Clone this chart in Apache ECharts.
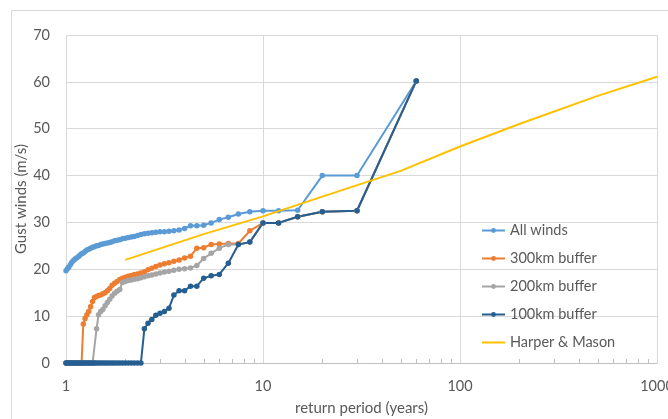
<!DOCTYPE html>
<html>
<head>
<meta charset="utf-8">
<script src="https://cdn.jsdelivr.net/npm/echarts@6/dist/echarts.min.js"></script>
<style>html,body{margin:0;padding:0;background:#fff;}#c{width:668px;height:419px;}</style>
</head>
<body>
<div id="c"></div>
<script>
// Return periods (years), rank 60 down to rank 1
const returnPeriods = [1, 1.017, 1.034, 1.053, 1.071, 1.091, 1.111, 1.132, 1.154, 1.176,
  1.2, 1.224, 1.25, 1.277, 1.304, 1.333, 1.364, 1.395, 1.429, 1.463,
  1.5, 1.538, 1.579, 1.622, 1.667, 1.714, 1.765, 1.818, 1.875, 1.935,
  2, 2.069, 2.143, 2.222, 2.308, 2.4, 2.5, 2.609, 2.727, 2.857,
  3, 3.158, 3.333, 3.529, 3.75, 4, 4.286, 4.615, 5, 5.455,
  6, 6.667, 7.5, 8.571, 10, 12, 15, 20, 30, 60];

const allWinds = [19.7, 20.1, 20.5, 21.0, 21.5, 21.9, 22.2, 22.4, 22.7, 23.0,
  23.3, 23.5, 23.8, 24.1, 24.3, 24.5, 24.7, 24.8, 25.0, 25.1,
  25.3, 25.4, 25.5, 25.6, 25.7, 25.9, 26.1, 26.2, 26.3, 26.5,
  26.6, 26.8, 26.9, 27.0, 27.2, 27.4, 27.6, 27.7, 27.8, 27.9,
  28.0, 28.0, 28.1, 28.2, 28.4, 28.7, 29.3, 29.3, 29.4, 29.9,
  30.6, 31.1, 31.8, 32.3, 32.5, 32.5, 32.6, 40.0, 40.0, 60.2];

const buffer300 = [0, 0, 0, 0, 0, 0, 0, 0, 0, 0,
  0, 8.3, 9.5, 10.3, 11.0, 12.0, 13.1, 14.0, 14.2, 14.4,
  14.5, 14.8, 15.0, 15.4, 15.9, 16.6, 17.0, 17.4, 17.8, 18.1,
  18.3, 18.5, 18.7, 18.9, 19.0, 19.2, 19.5, 19.9, 20.2, 20.6,
  20.9, 21.2, 21.4, 21.7, 22.0, 22.4, 22.8, 24.5, 24.6, 25.3,
  25.4, 25.5, 25.5, 28.2, 29.9, 29.9, 31.2, 32.3, 32.5, 60.2];

const buffer200 = [0, 0, 0, 0, 0, 0, 0, 0, 0, 0,
  0, 0, 0, 0, 0, 0, 0, 0, 7.3, 10.3,
  11.0, 11.4, 12.2, 12.9, 13.6, 14.3, 14.9, 15.3, 15.7, 17.2,
  17.4, 17.6, 17.7, 17.9, 18.0, 18.2, 18.4, 18.6, 18.8, 19.0,
  19.2, 19.4, 19.6, 19.8, 20.0, 20.1, 20.3, 20.8, 22.3, 23.4,
  24.5, 25.3, 25.3, 25.8, 29.9, 29.9, 31.2, 32.3, 32.5, 60.2];

const buffer100 = [0, 0, 0, 0, 0, 0, 0, 0, 0, 0,
  0, 0, 0, 0, 0, 0, 0, 0, 0, 0,
  0, 0, 0, 0, 0, 0, 0, 0, 0, 0,
  0, 0, 0, 0, 0, 0, 7.3, 8.5, 9.3, 10.2,
  10.6, 11.0, 11.7, 14.5, 15.4, 15.4, 16.4, 16.4, 18.1, 18.6,
  18.9, 21.3, 25.3, 25.8, 29.9, 29.9, 31.2, 32.3, 32.5, 60.2];

const harperPeriods = [2, 5, 10, 20, 50, 100, 200, 500, 1000];
const harperValues = [22.0, 27.5, 31.3, 35.5, 41.0, 46.2, 51.0, 57.0, 61.1];

const xTickLabels = ['1', '10', '100', '1000'];
const minorTickValues = [2, 3, 4, 5, 6, 7, 8, 9, 20, 30, 40, 50, 60, 70, 80, 90, 200, 300, 400, 500, 600, 700, 800, 900];

function pairs(xs, ys) { return xs.map((x, i) => [x, ys[i]]); }

const FONT = 'Lato';
const TXT = '#595959';

const chart = echarts.init(document.getElementById('c'), null, { renderer: 'canvas' });

function lineSeries(name, data, color) {
  return {
    name: name, type: 'line', data: data,
    symbol: 'circle', symbolSize: 5.5, showSymbol: true,
    lineStyle: { color: color, width: 2 },
    itemStyle: { color: color },
    animation: false, z: 3
  };
}

chart.setOption({
  animation: false,
  textStyle: { fontFamily: FONT },
  graphic: [{
    type: 'rect', silent: true, z: -10,
    shape: { x: 11.5, y: 10.5, width: 700, height: 500 },
    style: { fill: 'none', stroke: '#D9D9D9', lineWidth: 1 }
  }],
  grid: { left: 66, right: 11, top: 35, bottom: 56, containLabel: false, outerBoundsMode: 'none' },
  xAxis: {
    type: 'log', logBase: 10, min: 1, max: 1000,
    name: 'return period (years)', nameLocation: 'middle', nameGap: 38, nameMoveOverlap: false,
    nameTextStyle: { color: TXT, fontSize: 15, fontFamily: FONT },
    axisLine: { show: true, onZero: false, lineStyle: { color: '#BFBFBF', width: 1 } },
    axisTick: { show: false },
    axisLabel: {
      color: TXT, fontSize: 14.5, fontFamily: FONT, margin: 16, hideOverlap: false,
      formatter: function (v) {
        const idx = Math.round(Math.log10(v));
        return xTickLabels[idx] !== undefined ? xTickLabels[idx] : '';
      }
    },
    splitLine: { show: true, lineStyle: { color: '#D9D9D9', width: 1 } },
    minorTick: { show: false }
  },
  yAxis: {
    type: 'value', min: 0, max: 70, interval: 10,
    name: 'Gust winds (m/s)', nameLocation: 'middle', nameGap: 37, nameRotate: 90, nameMoveOverlap: false,
    nameTextStyle: { color: TXT, fontSize: 15, fontFamily: FONT },
    axisLine: { show: false }, axisTick: { show: false },
    axisLabel: { color: TXT, fontSize: 14.5, fontFamily: FONT, margin: 16 },
    splitLine: { show: true, lineStyle: { color: '#D9D9D9', width: 1 } }
  },
  legend: {
    orient: 'vertical', left: 476, top: 218,
    itemWidth: 23, itemHeight: 6, itemGap: 13,
    textStyle: { color: TXT, fontSize: 14.5, fontFamily: FONT, lineHeight: 14 },
    data: ['All winds', '300km buffer', '200km buffer', '100km buffer',
      { name: 'Harper & Mason', itemStyle: { opacity: 0 } }]
  },
  series: [
    lineSeries('All winds', pairs(returnPeriods, allWinds), '#5B9BD5'),
    lineSeries('300km buffer', pairs(returnPeriods, buffer300), '#ED7D31'),
    lineSeries('200km buffer', pairs(returnPeriods, buffer200), '#A5A5A5'),
    lineSeries('100km buffer', pairs(returnPeriods, buffer100), '#255E91'),
    {
      name: 'Harper & Mason', type: 'line', data: pairs(harperPeriods, harperValues),
      symbol: 'none', lineStyle: { color: '#FFC000', width: 2 }, itemStyle: { color: '#FFC000' },
      z: 4, animation: false
    },
    {
      name: 'minorTicks', type: 'custom', silent: true, z: 1,
      data: minorTickValues.map(v => [v, 0]),
      renderItem: function (params, api) {
        const p = api.coord([api.value(0), 0]);
        return {
          type: 'line',
          shape: { x1: Math.round(p[0]) + 0.5, y1: p[1], x2: Math.round(p[0]) + 0.5, y2: p[1] - 4 },
          style: { stroke: '#BFBFBF', lineWidth: 1 }
        };
      },
      tooltip: { show: false }
    }
  ]
});
</script>
</body>
</html>
